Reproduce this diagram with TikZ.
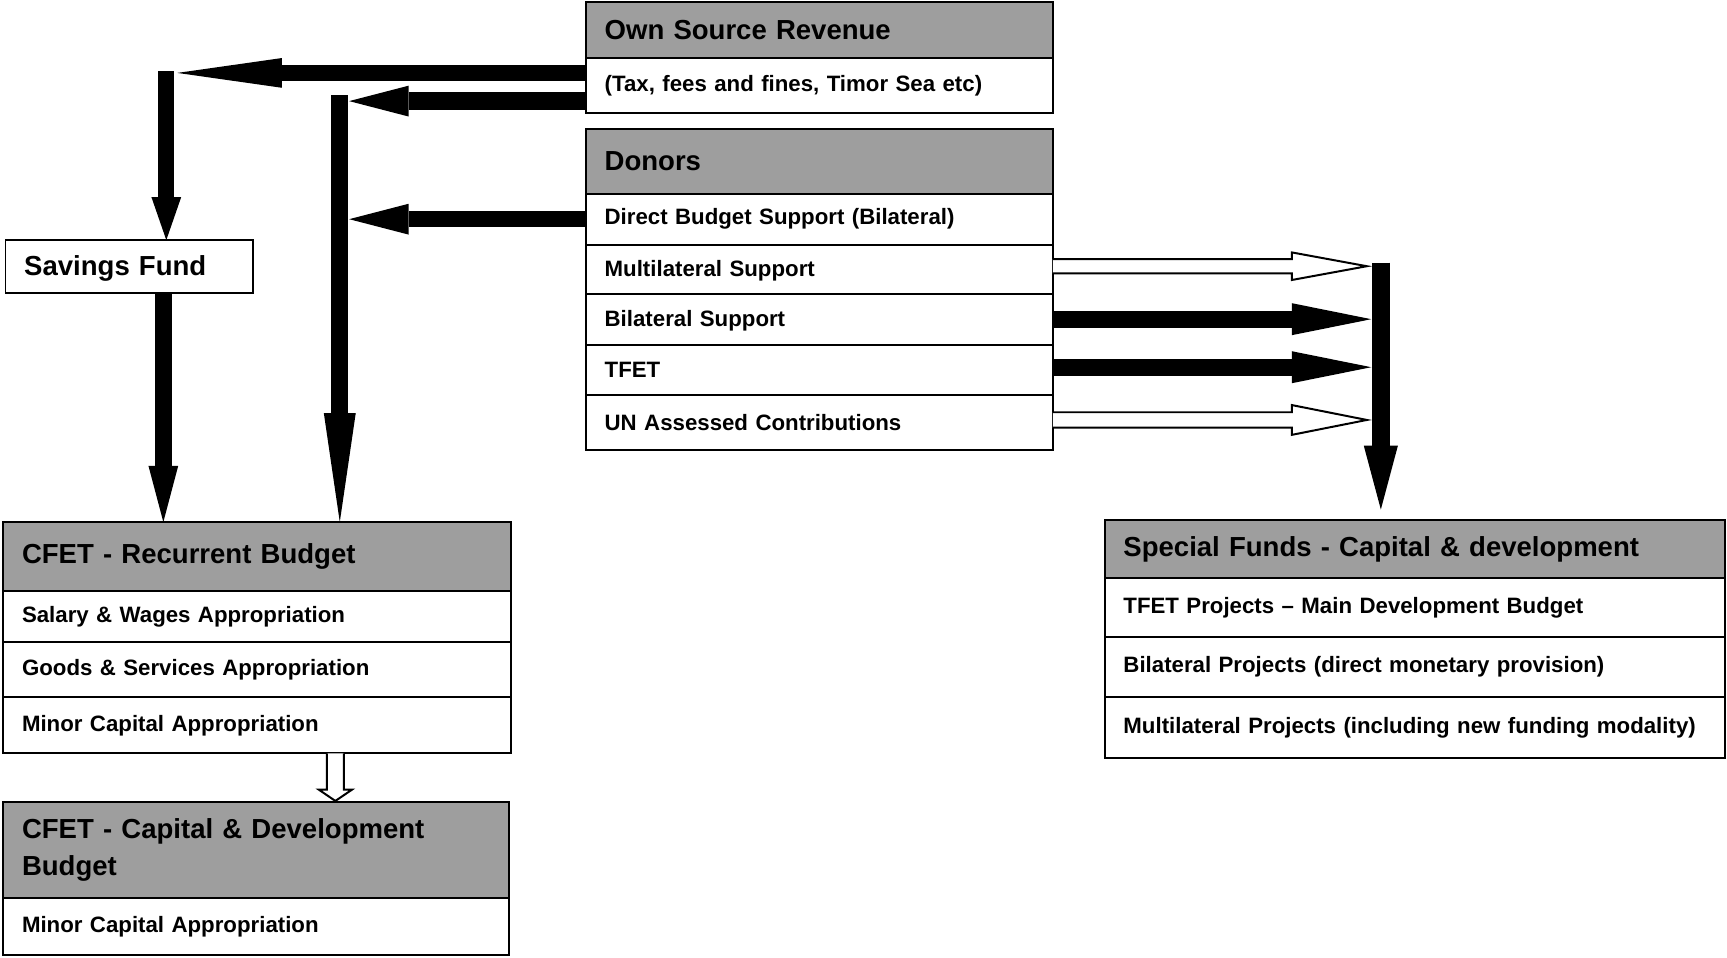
\documentclass[tikz,border=0pt]{standalone}
\usepackage{fontspec}
\setmainfont{Liberation Sans}
\usetikzlibrary{arrows.meta,calc}
\begin{document}
\begin{tikzpicture}[x=1pt,y=-1pt,
  cell/.style={draw=black, line width=1.8pt, anchor=north west, inner xsep=17pt, inner ysep=0pt,
    outer sep=0pt, align=left, font=\bfseries\fontsize{20.2}{24}\selectfont},
  headcell/.style={cell, fill=black!38, font=\bfseries\fontsize{25}{34}\selectfont},
  bigcell/.style={cell, font=\bfseries\fontsize{25}{30}\selectfont},
  fat/.style={draw=black, line cap=butt},
  hollow/.style={draw=black, line width=1.8pt, line join=miter, fill=white}]
\useasboundingbox (0,0) rectangle (1568,869);

% ---- Own Source Revenue
\node[headcell, minimum width=424pt, minimum height=51pt, text width=390pt] (osrh) at (532,2) {Own Source Revenue};
\node[cell, minimum width=424pt, minimum height=50pt, text width=390pt] (osr1) at (532,53) {(Tax, fees and fines, Timor Sea etc)};
% ---- Donors
\node[headcell, minimum width=424pt, minimum height=59pt, text width=390pt] (donh) at (532,117) {Donors};
\node[cell, minimum width=424pt, minimum height=46pt, text width=390pt] (don1) at (532,176) {Direct Budget Support (Bilateral)};
\node[cell, minimum width=424pt, minimum height=45pt, text width=390pt, text depth=1pt] (don2) at (532,222) {Multilateral Support};
\node[cell, minimum width=424pt, minimum height=46pt, text width=390pt, text depth=1pt] (don3) at (532,267) {Bilateral Support};
\node[cell, minimum width=424pt, minimum height=46pt, text width=390pt] (don4) at (532,313) {TFET};
\node[cell, minimum width=424pt, minimum height=50pt, text width=390pt] (don5) at (532,359) {UN Assessed Contributions};
% ---- Savings Fund
\node[bigcell, minimum width=225pt, minimum height=48pt, text width=191pt, text depth=1pt] (sav) at (5,218) {Savings Fund};
% ---- CFET Recurrent
\node[headcell, minimum width=461pt, minimum height=63pt, text width=427pt] (rech) at (3,474) {CFET - Recurrent Budget};
\node[cell, minimum width=461pt, minimum height=46pt, text width=427pt] (rec1) at (3,537) {Salary \& Wages Appropriation};
\node[cell, minimum width=461pt, minimum height=50pt, text width=427pt] (rec2) at (3,583) {Goods \& Services Appropriation};
\node[cell, minimum width=461pt, minimum height=51pt, text width=427pt] (rec3) at (3,633) {Minor Capital Appropriation};
% ---- CFET Capital
\node[headcell, minimum width=459pt, minimum height=87pt, text width=425pt] (caph) at (3,728) {CFET - Capital \& Development\\Budget};
\node[cell, minimum width=459pt, minimum height=52pt, text width=425pt] (cap1) at (3,815) {Minor Capital Appropriation};
% ---- Special Funds
\node[headcell, minimum width=563pt, minimum height=53pt, text width=529pt] (spfh) at (1003,472) {Special Funds - Capital \& development};
\node[cell, minimum width=563pt, minimum height=53pt, text width=529pt] (spf1) at (1003,525) {TFET Projects – Main Development Budget};
\node[cell, minimum width=563pt, minimum height=55pt, text width=529pt] (spf2) at (1003,578) {Bilateral Projects (direct monetary provision)};
\node[cell, minimum width=563pt, minimum height=55pt, text width=529pt] (spf3) at (1003,633) {Multilateral Projects (including new funding modality)};

% ---- coordinates for connector ends
\coordinate (c1) at (161,66.2);
\coordinate (v1) at (151,64.5);
\coordinate (c2) at (317,91.8);
\coordinate (v2) at (308.5,86.3);
\coordinate (c3) at (317,199);
\coordinate (v3) at (148.3,0);
\coordinate (hv) at (304.5,0);
\coordinate (tipR) at (1245,0);
\coordinate (yM) at (0,241.7);
\coordinate (yB) at (0,289.8);
\coordinate (yT) at (0,333.4);
\coordinate (yU) at (0,381.3);
\coordinate (v4) at (1253.7,238.5);

% ---- left filled arrows
\draw[fat, line width=14.3pt, -{Triangle[length=95pt,width=27pt,line width=0pt]}] (c1 -| osr1.west) -- (c1);
\draw[fat, line width=14.5pt, -{Triangle[length=39pt,width=27pt,line width=0pt]}] (v1) -- (v1 |- sav.north);
\draw[fat, line width=16pt, -{Triangle[length=54pt,width=28pt,line width=0pt]}] (c2 -| osr1.west) -- (c2);
\draw[fat, line width=15.5pt, -{Triangle[length=99pt,width=29pt,line width=0pt]}] (v2) -- (v2 |- rech.north);
\draw[fat, line width=15pt, -{Triangle[length=54pt,width=28pt,line width=0pt]}] (c3 -| don1.west) -- (c3);
\draw[fat, line width=15pt, -{Triangle[length=51pt,width=27pt,line width=0pt]}] (v3 |- sav.south) -- (v3 |- rech.north);

% ---- right filled arrows
\draw[fat, line width=15.4pt, -{Triangle[length=72pt,width=29pt,line width=0pt]}] (yB -| don3.east) -- (yB -| tipR);
\draw[fat, line width=15.4pt, -{Triangle[length=72pt,width=29pt,line width=0pt]}] (yT -| don4.east) -- (yT -| tipR);
\draw[fat, line width=16.6pt, shorten >=9.4pt, -{Triangle[length=58pt,width=31pt,line width=0pt]}] (v4) -- (v4 |- spfh.north);

% ---- right hollow arrows
\draw[hollow] let \p1=(yM -| don2.east), \p2=(yM -| tipR) in
  (\x1,{\y1+6.5pt}) -- ({\x2-72pt},{\y1+6.5pt}) -- ({\x2-72pt},{\y1+12.5pt}) -- ({\x2-4pt},\y1)
  -- ({\x2-72pt},{\y1-12.5pt}) -- ({\x2-72pt},{\y1-6.5pt}) -- (\x1,{\y1-6.5pt});
\draw[hollow] let \p1=(yU -| don5.east), \p2=(yU -| tipR) in
  (\x1,{\y1+7pt}) -- ({\x2-72pt},{\y1+7pt}) -- ({\x2-72pt},{\y1+13.5pt}) -- ({\x2-4pt},\y1)
  -- ({\x2-72pt},{\y1-13.5pt}) -- ({\x2-72pt},{\y1-7pt}) -- (\x1,{\y1-7pt});

% ---- hollow arrow between CFET budgets
\draw[hollow] let \p1=(hv |- rec3.south), \p2=(hv |- caph.north) in
  ({\x1-7.8pt},\y1) -- ({\x1-7.8pt},{\y2+11pt}) -- ({\x1-15pt},{\y2+11pt}) -- (\x1,{\y2+0.8pt})
  -- ({\x1+15pt},{\y2+11pt}) -- ({\x1+7.8pt},{\y2+11pt}) -- ({\x1+7.8pt},\y1);
\end{tikzpicture}
\end{document}
